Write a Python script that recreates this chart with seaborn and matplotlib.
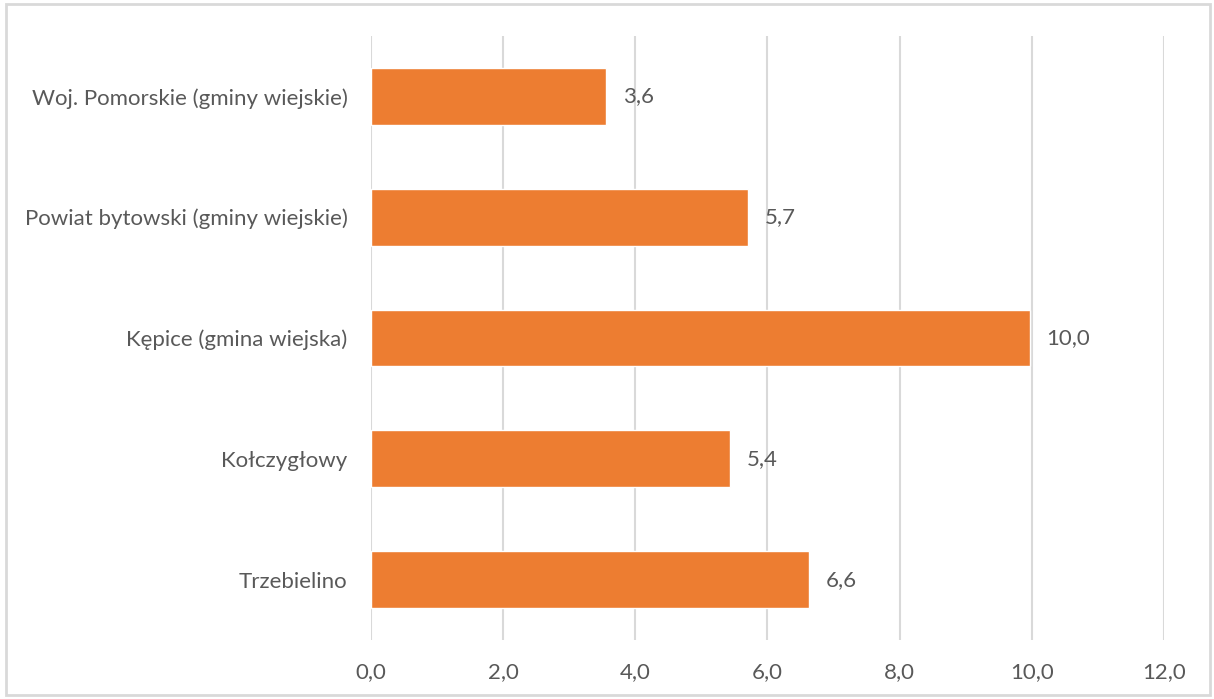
import matplotlib
matplotlib.use("Agg")
import matplotlib.pyplot as plt
import seaborn as sns
import pandas as pd

# chart data
categories = [
    "Woj. Pomorskie (gminy wiejskie)",
    "Powiat bytowski (gminy wiejskie)",
    "Kępice (gmina wiejska)",
    "Kołczygłowy",
    "Trzebielino",
]
values = [3.56, 5.70, 9.97, 5.44, 6.63]
x_ticks = [0, 2, 4, 6, 8, 10, 12]

BAR_COLOR = "#ED7D31"
TEXT_COLOR = "#595959"
GRID_COLOR = "#D9D9D9"
FONT_SIZE = 16

sns.set_theme(style="white")
plt.rcParams["font.family"] = ["Lato", "DejaVu Sans"]

df = pd.DataFrame({"kategoria": categories, "wartosc": values})

fig = plt.figure(figsize=(12.14, 6.99), dpi=100)
ax = fig.add_axes([0.3056, 0.0844, 0.6532, 0.8641])

sns.barplot(data=df, x="wartosc", y="kategoria", orient="h",
            color=BAR_COLOR, saturation=1, width=0.47, ax=ax, zorder=3)

ax.set_xlim(0, 12)
ax.set_ylim(4.5, -0.5)
ax.set_xticks(x_ticks)
ax.set_xticklabels([f"{t:.1f}".replace(".", ",") for t in x_ticks])
ax.grid(axis="x", color=GRID_COLOR, linewidth=1.5, zorder=0)
ax.grid(axis="y", visible=False)
for s in ax.spines.values():
    s.set_visible(False)
ax.set_xlabel("")
ax.set_ylabel("")
ax.tick_params(axis="both", length=0, labelsize=FONT_SIZE, colors=TEXT_COLOR)
ax.tick_params(axis="y", pad=17)
ax.tick_params(axis="x", pad=16)

labels = [f"{v:.1f}".replace(".", ",") for v in values]
ax.bar_label(ax.containers[0], labels=labels, padding=12,
             fontsize=FONT_SIZE, color=TEXT_COLOR)

# outer chart frame
fig.patches.append(plt.Rectangle((0.005, 0.006), 0.992, 0.988,
                                 transform=fig.transFigure, fill=False,
                                 edgecolor=GRID_COLOR, linewidth=2))

fig.savefig("out.png", dpi=100, facecolor="white")
